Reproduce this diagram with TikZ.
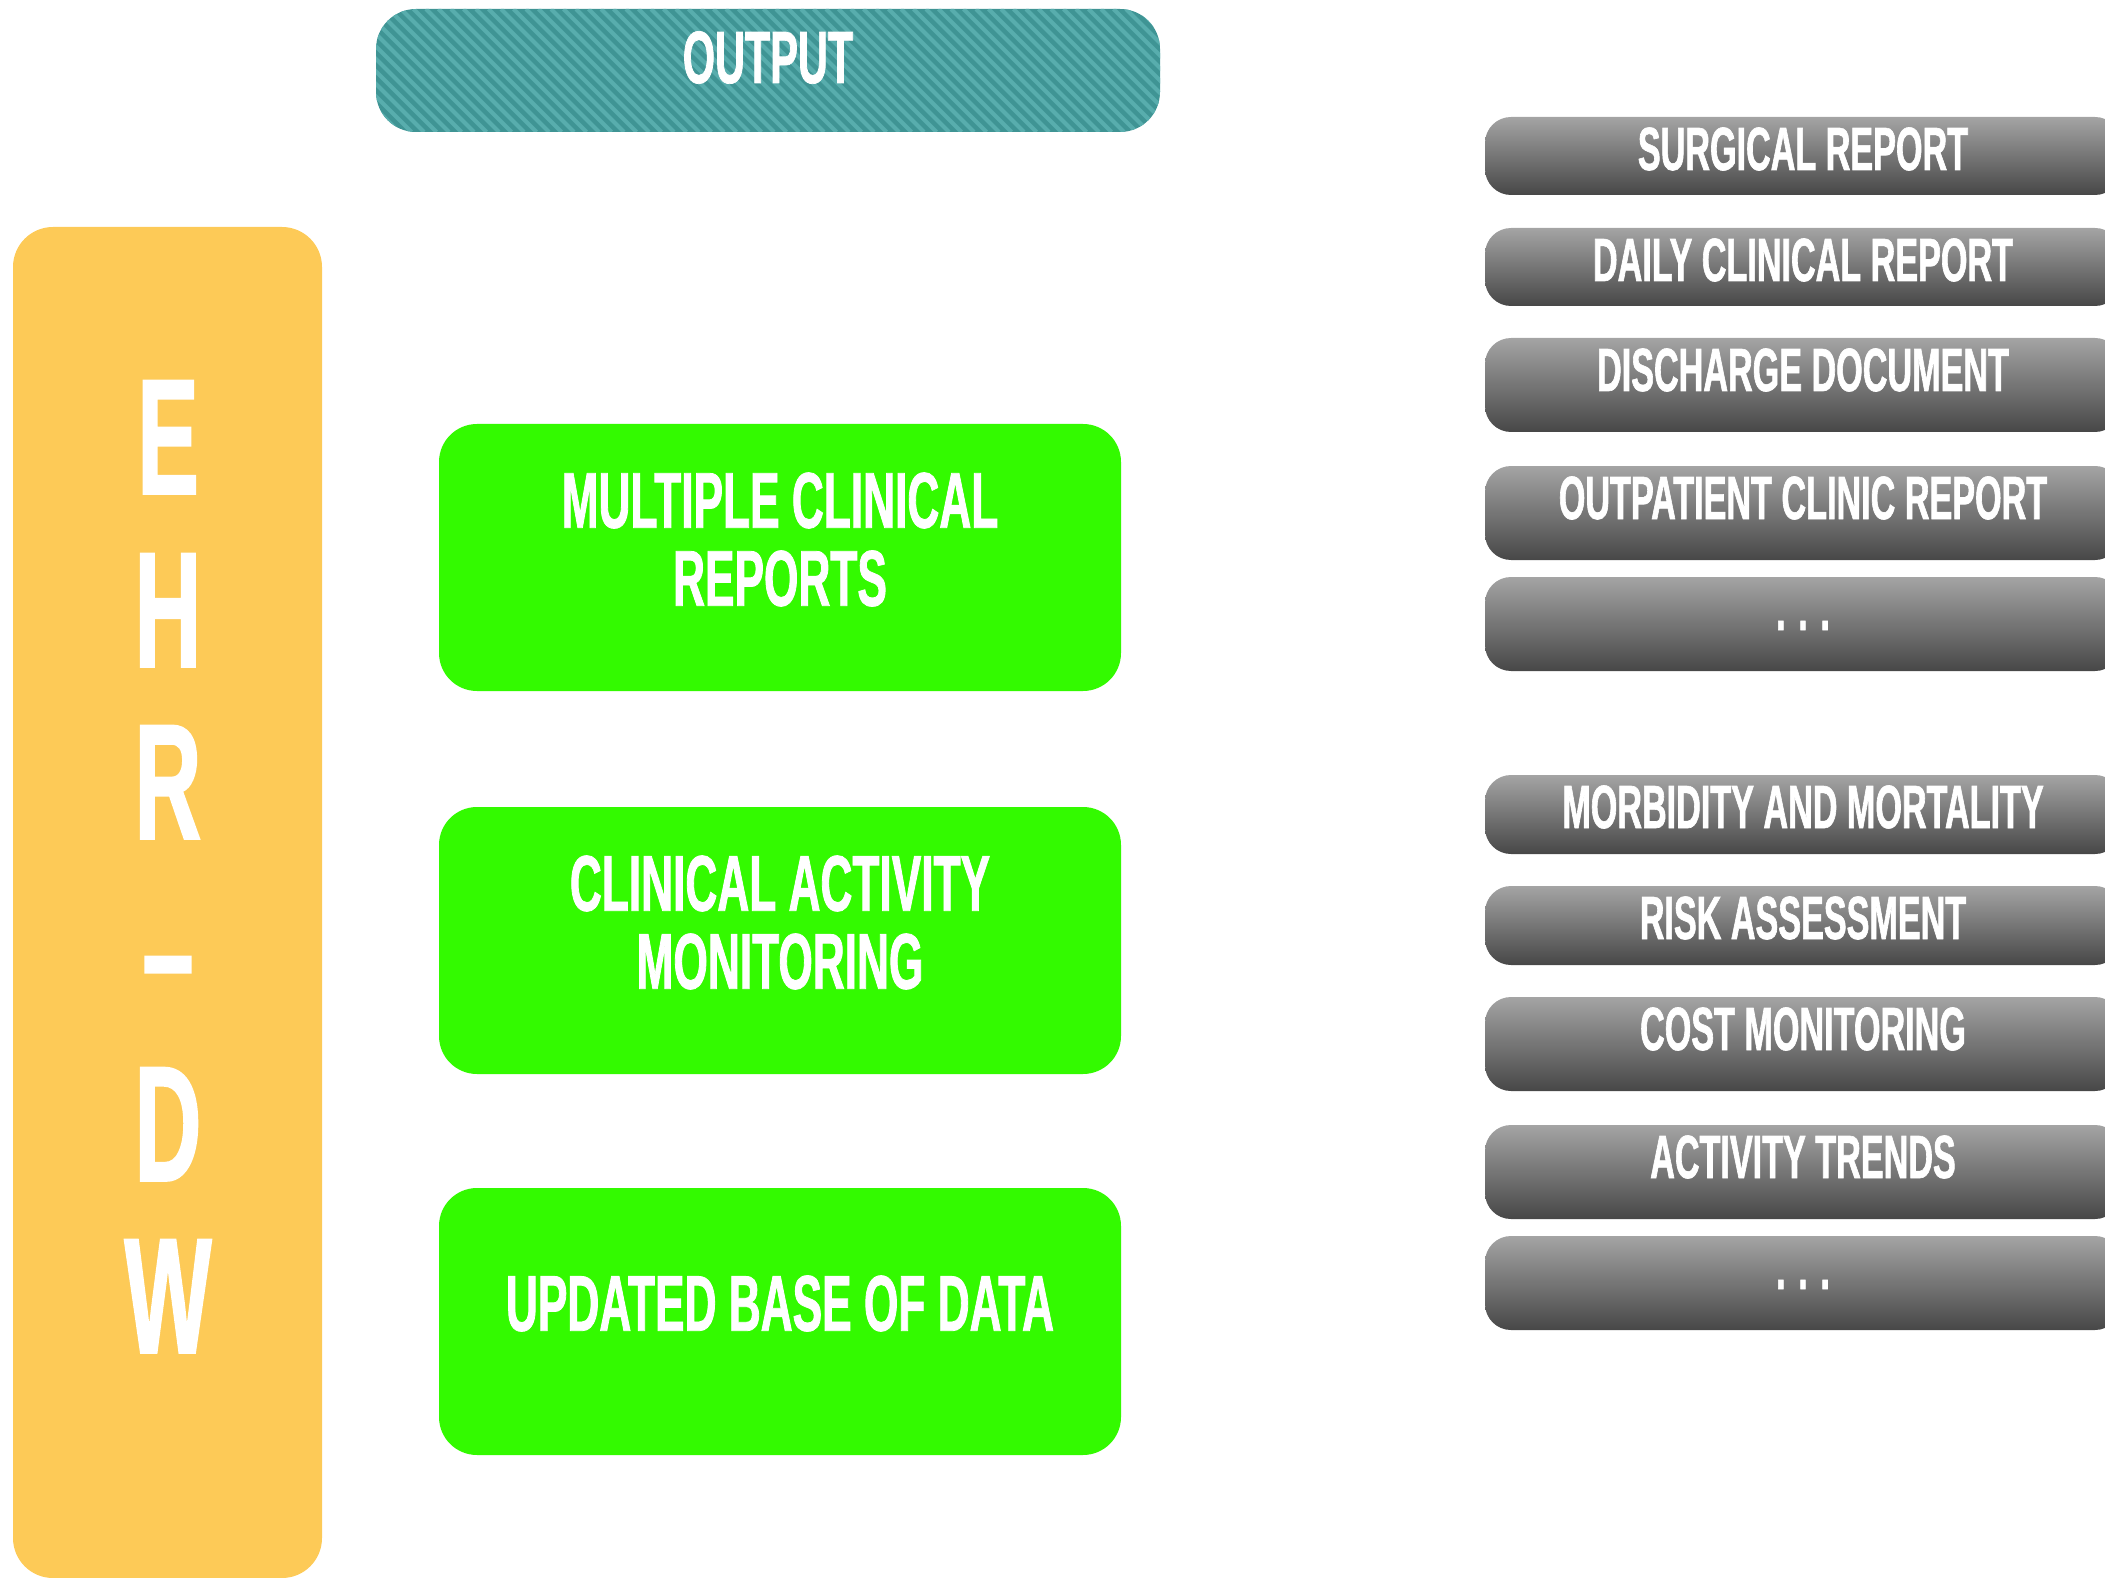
\documentclass[tikz,border=0pt]{standalone}
\usepackage{fontspec}
\setmainfont{Liberation Sans}[FakeStretch=0.56, FakeBold=1]
\definecolor{ehrYellow}{HTML}{FDCA57}
\definecolor{outTeal}{HTML}{3F9494}
\definecolor{outStripe}{HTML}{58ADAD}
\definecolor{boxGreen}{HTML}{33FA00}
\definecolor{grayTop}{HTML}{A4A4A4}
\definecolor{grayBot}{HTML}{474747}
\begin{document}
\begin{tikzpicture}[x=1pt,y=-1pt,
  panel/.style={rectangle, draw=none, inner sep=0pt, outer sep=0pt, anchor=north west},
  outputbox/.style={panel, fill=outTeal, rounded corners=40pt, minimum width=784pt, minimum height=123pt},
  stripe/.style={outStripe, line width=4pt},
  ehrbar/.style={panel, fill=ehrYellow, rounded corners=40pt, minimum width=309pt, minimum height=1351pt},
  greenbox/.style={panel, fill=boxGreen, rounded corners=38pt, minimum width=682pt, minimum height=267pt},
  grayitem/.style={panel, rounded corners=26pt, top color=grayTop, bottom color=grayBot, minimum width=636pt},
  caption/.style={text=white, inner sep=0pt, outer sep=0pt, font=\bfseries\fontsize{#1}{#1}\selectfont},
  outtext/.style={caption=74, anchor=base},
  bigletter/.style={caption=165, anchor=base},
  greentext/.style={caption=79, align=center, anchor=center, font=\bfseries\fontsize{79}{78}\selectfont},
  graytext/.style={caption=61, anchor=base}]
\useasboundingbox (0,0) rectangle (2105,1578);

% header banner with diagonal stripes
\node[outputbox] (out) at (376,9) {};
\begin{scope}
  \clip[rounded corners=40pt] (out.north west) rectangle (out.south east);
  \foreach \i in {-12,...,68}
    \draw[stripe] ([xshift=\i*12.5pt]out.north west) -- ++(123,123);
\end{scope}
\node[outtext] (outlabel) at (768,83) {OUTPUT};

% vertical EHR-DW bar
\node[ehrbar] (ehr) at (13,227) {};
\node[bigletter] (lE) at (168,494) {E};
\node[bigletter] (lH) at (168,667) {H};
\node[bigletter] (lR) at (168,839) {R};
\node[bigletter] (lDash) at (168,1009) {–};
\node[bigletter] (lD) at (168,1181) {D};
\node[bigletter] (lW) at (168,1353) {W};

% main output blocks
\node[greenbox] (gb1) at (439,424) {};
\node[greenbox] (gb2) at (439,807) {};
\node[greenbox] (gb3) at (439,1188) {};
\node[greentext] (gt1) at ([yshift=18pt]gb1.center) {MULTIPLE CLINICAL\\REPORTS};
\node[greentext] (gt2) at ([yshift=18pt]gb2.center) {CLINICAL ACTIVITY\\MONITORING};
\node[greentext] (gt3) at ([yshift=18pt]gb3.center) {UPDATED BASE OF DATA};

% list of specific outputs
\foreach \n/\t/\h/\txt in {
    1/117/78/SURGICAL REPORT,
    2/228/78/DAILY CLINICAL REPORT,
    3/338/94/DISCHARGE DOCUMENT,
    4/466/94/OUTPATIENT CLINIC REPORT,
    5/577/94/. . .,
    6/775/79/MORBIDITY AND MORTALITY,
    7/886/79/RISK ASSESSMENT,
    8/997/94/COST MONITORING,
    9/1125/94/ACTIVITY TRENDS,
    10/1236/94/. . .} {
  \node[grayitem, minimum height=\h pt] (g\n) at (1485,\t) {};
  \node[graytext] (gl\n) at ([yshift=-53pt]g\n.north) {\txt};
}
\end{tikzpicture}
\end{document}
